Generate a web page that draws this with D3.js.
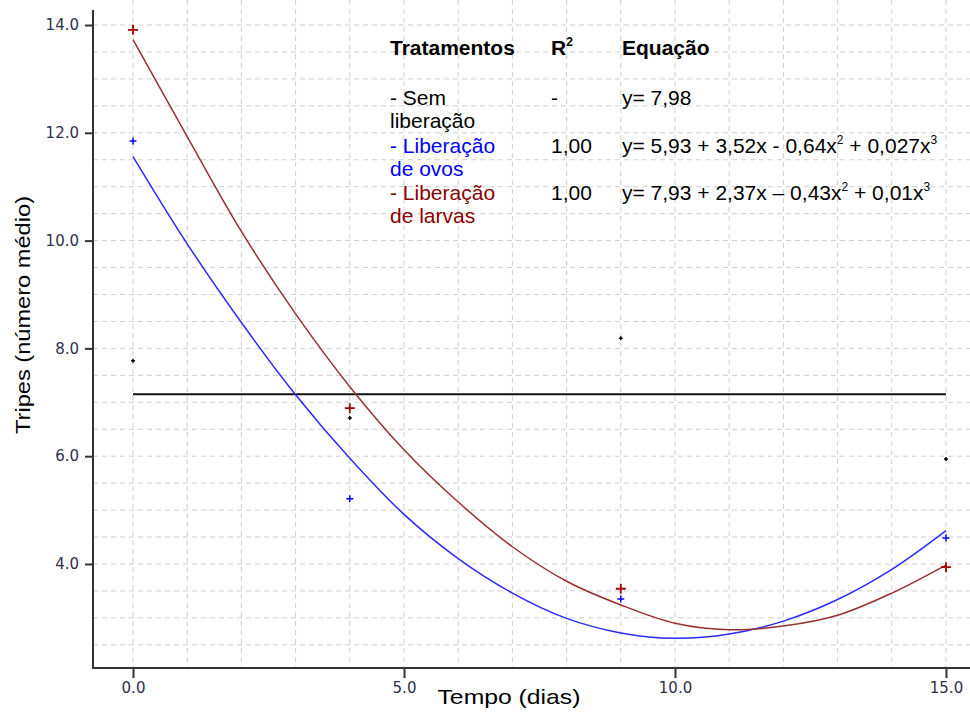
<!DOCTYPE html>
<meta charset="utf-8">
<script src="https://d3js.org/d3.v7.min.js"></script>
<style>
  body { margin: 0; background: #fff; }
  .tick text { font-family: "DejaVu Sans", Verdana, sans-serif; font-size: 15px; fill: #30304a; }
  .lbl { font-family: "Liberation Sans", Arial, sans-serif; fill: #000; }
</style>
<body>
<div id="chart"></div>
<script>
// pontos observados (dias 0, 4, 9, 15)
var dias = [0, 4, 9, 15];
var semLiberacao = [7.77, 6.71, 8.19, 5.95];
var liberacaoOvos = [11.85, 5.21, 3.35, 4.48];
var liberacaoLarvas = [13.91, 6.89, 3.54, 3.94];
var mediaSem = 7.15;

var curvaDias = [0, 1, 2, 3, 4, 5, 6, 7, 8, 9, 10, 11, 12, 13, 14, 15];
var curvaOvos = [11.56, 9.94, 8.48, 7.14, 5.96, 4.92, 4.10, 3.46, 2.99, 2.72, 2.62, 2.70, 2.94, 3.34, 3.90, 4.62];
var curvaLarvas = [13.73, 11.93, 10.17, 8.64, 7.29, 6.12, 5.15, 4.32, 3.68, 3.24, 2.90, 2.78, 2.85, 3.05, 3.46, 3.98];

var xMinor = d3.range(0, 16, 1);
var xMajor = [0, 5, 10, 15];
var yMinor = d3.range(2.5, 14.01, 0.5);
var yMajor = [4, 6, 8, 10, 12, 14];

// tabela da legenda
var tratamentos = [["- Sem", "liberação"], ["- Liberação", "de ovos"], ["- Liberação", "de larvas"]];
var r2 = ["-", "1,00", "1,00"];
var equacoes = [
  [["y= 7,98", false]],
  [["y= 5,93 + 3,52x - 0,64x", false], ["2", true], [" + 0,027x", false], ["3", true]],
  [["y= 7,93 + 2,37x \u2013 0,43x", false], ["2", true], [" + 0,01x", false], ["3", true]]
];
var cores = ["#000000", "#0000ff", "#8b0000"];

var width = 970, height = 713;

var svg = d3.select("#chart").append("svg")
  .attr("width", width)
  .attr("height", height);

var x = d3.scaleLinear().domain([-0.738, 15.443]).range([93, 970]);
var y = d3.scaleLinear().domain([2.07, 14.464]).range([668, 0]);

// grade tracejada
svg.append("g").selectAll("line").data(xMinor).enter().append("line")
  .attr("x1", d => x(d)).attr("x2", d => x(d))
  .attr("y1", 0).attr("y2", 668)
  .attr("stroke", "#cfcfcf").attr("stroke-dasharray", "5,4");
svg.append("g").selectAll("line").data(yMinor).enter().append("line")
  .attr("x1", 93).attr("x2", 970)
  .attr("y1", d => y(d)).attr("y2", d => y(d))
  .attr("stroke", "#cfcfcf").attr("stroke-dasharray", "5,4");

// eixos
var gy = svg.append("g").attr("transform", "translate(93,0)");
gy.call(d3.axisLeft(y).tickValues(yMinor).tickSize(6).tickFormat(""));
gy.call(d3.axisLeft(y).tickValues(yMajor).tickSize(8).tickPadding(6).tickFormat(d3.format(".1f")));
gy.selectAll(".domain").remove();
gy.selectAll(".tick line").attr("stroke", "#333").attr("stroke-width", 2);

var gx = svg.append("g").attr("transform", "translate(0,668)");
gx.call(d3.axisBottom(x).tickValues(xMinor).tickSize(6).tickFormat(""));
gx.call(d3.axisBottom(x).tickValues(xMajor).tickSize(10).tickPadding(4).tickFormat(d3.format(".1f")));
gx.selectAll(".domain").remove();
gx.selectAll(".tick line").attr("stroke", "#333").attr("stroke-width", 2);

svg.append("line").attr("x1", 93).attr("x2", 93).attr("y1", 10).attr("y2", 669)
  .attr("stroke", "#333").attr("stroke-width", 2);
svg.append("line").attr("x1", 92).attr("x2", 970).attr("y1", 668).attr("y2", 668)
  .attr("stroke", "#333").attr("stroke-width", 2);

// media sem liberacao
svg.append("line")
  .attr("x1", x(0)).attr("x2", x(15))
  .attr("y1", y(mediaSem)).attr("y2", y(mediaSem))
  .attr("stroke", "#111").attr("stroke-width", 2);

// curvas
var linha = d3.line().x(d => x(d[0])).y(d => y(d[1])).curve(d3.curveCatmullRom);
svg.append("path").datum(d3.zip(curvaDias, curvaOvos))
  .attr("d", linha).attr("fill", "none").attr("stroke", "#2b2bff").attr("stroke-width", 1.5);
svg.append("path").datum(d3.zip(curvaDias, curvaLarvas))
  .attr("d", linha).attr("fill", "none").attr("stroke", "#993030").attr("stroke-width", 1.5);

// marcadores +
function cruz(dados, s, cor, w) {
  svg.append("g").selectAll("path").data(d3.zip(dias, dados)).enter().append("path")
    .attr("transform", d => "translate(" + x(d[0]) + "," + y(d[1]) + ")")
    .attr("d", "M" + (-s) + ",0H" + s + "M0," + (-s) + "V" + s)
    .attr("stroke", cor).attr("stroke-width", w).attr("fill", "none");
}
cruz(semLiberacao, 2, "#000", 1.5);
cruz(liberacaoOvos, 3.5, "#0000ff", 1.5);
cruz(liberacaoLarvas, 5, "#a00000", 1.8);

// titulos dos eixos
svg.append("text").attr("class", "lbl")
  .attr("x", 509).attr("y", 704).attr("text-anchor", "middle")
  .style("font-size", "21px").attr("textLength", 143).attr("lengthAdjust", "spacingAndGlyphs")
  .text("Tempo (dias)");
svg.append("text").attr("class", "lbl")
  .attr("transform", "translate(30,315)rotate(-90)").attr("text-anchor", "middle")
  .style("font-size", "21px").attr("textLength", 238).attr("lengthAdjust", "spacingAndGlyphs")
  .text("Tripes (número médio)");

// legenda em tabela
var leg = svg.append("g").attr("class", "lbl").style("font-size", "21px");
leg.append("text").attr("x", 390).attr("y", 55).style("font-weight", "bold").text("Tratamentos");
var r2h = leg.append("text").attr("x", 551).attr("y", 55).style("font-weight", "bold");
r2h.append("tspan").text("R");
r2h.append("tspan").attr("dy", -9).style("font-size", "12px").text("2");
leg.append("text").attr("x", 622).attr("y", 55).style("font-weight", "bold").text("Equação");

var rowY = [105, 153, 200];
tratamentos.forEach(function(t, i) {
  var tt = leg.append("text").attr("x", 390).attr("y", rowY[i]).style("fill", cores[i]);
  tt.append("tspan").attr("x", 390).text(t[0]);
  tt.append("tspan").attr("x", 390).attr("dy", 23).text(t[1]);
  leg.append("text").attr("x", 551).attr("y", rowY[i]).text(r2[i]);
  var eq = leg.append("text").attr("x", 622).attr("y", rowY[i]);
  var up = false;
  equacoes[i].forEach(function(p) {
    var sp = eq.append("tspan").text(p[0]);
    if (p[1]) { sp.attr("dy", -9).style("font-size", "12px"); up = true; }
    else if (up) { sp.attr("dy", 9); up = false; }
  });
});
</script>
</body>
